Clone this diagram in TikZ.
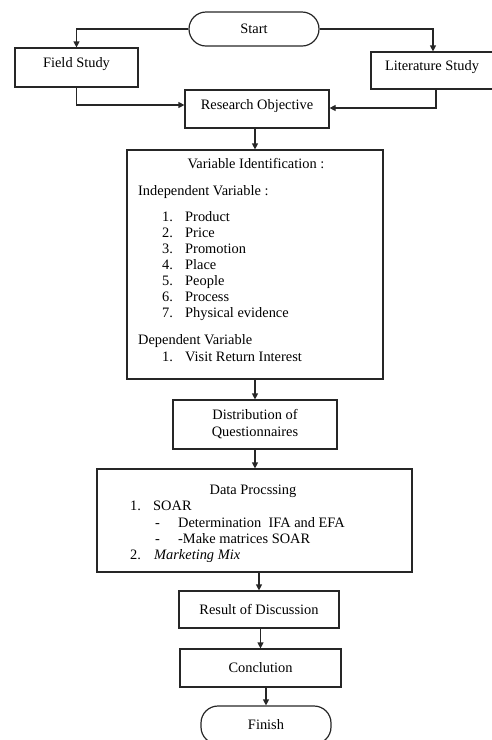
\documentclass[tikz,border=0pt]{standalone}
\usepackage{fontspec}
\setmainfont{Liberation Serif}
\usetikzlibrary{arrows.meta,calc}
\begin{document}
\begin{tikzpicture}[x=1pt,y=-1pt,
  every node/.style={font=\fontsize{14.4}{17}\selectfont, text=black},
  box/.style={draw=black!85, line width=1.2pt, rectangle, inner sep=0pt},
  term/.style={box, rounded corners=17pt},
  txt/.style={inner sep=0pt, anchor=mid west, yshift=-3pt},
  arr/.style={draw=black!85, line width=1.2pt, -{Triangle[length=6pt,width=6pt]}}]
\useasboundingbox (0,0) rectangle (491,740);

% main shapes
\node[term, minimum width=130pt, minimum height=34pt] (start) at (254,29) {Start};
\node[box, minimum width=123pt, minimum height=39pt, text depth=10pt] (field) at (76.5,67.5) {Field Study};
\node[box, minimum width=130pt, minimum height=37pt, text depth=10pt] (lit) at (436,70.5) {Literature Study\hspace*{8pt}};
\node[box, minimum width=144pt, minimum height=38pt, text depth=10pt] (ro) at (257,109) {Research Objective};
\node[box, minimum width=256pt, minimum height=229pt] (var) at (255,264.5) {};
\node[box, minimum width=164pt, minimum height=49pt, align=center] (dist) at (255,424.5) {Distribution of\\Questionnaires};
\node[box, minimum width=315pt, minimum height=103pt] (data) at (254.5,520.5) {};
\node[box, minimum width=160pt, minimum height=37pt] (result) at (259,609.5) {Result of Discussion};
\node[box, minimum width=161pt, minimum height=38pt] (concl) at (260.5,668) {Conclution};
\node[term, minimum width=130pt, minimum height=38pt] (finish) at (266,725) {Finish};

% variable identification text
\node[txt, anchor=mid] (vtitle) at (256,163) {Variable Identification :};
\node[txt] (indep) at (138,190) {Independent Variable :};
\node[txt] (n1) at (162,216.5) {1.}; \node[txt] (i1) at (185,216.5) {Product};
\node[txt] (n2) at (162,232.5) {2.}; \node[txt] (i2) at (185,232.5) {Price};
\node[txt] (n3) at (162,248.5) {3.}; \node[txt] (i3) at (185,248.5) {Promotion};
\node[txt] (n4) at (162,264.5) {4.}; \node[txt] (i4) at (185,264.5) {Place};
\node[txt] (n5) at (162,280.5) {5.}; \node[txt] (i5) at (185,280.5) {People};
\node[txt] (n6) at (162,296.5) {6.}; \node[txt] (i6) at (185,296.5) {Process};
\node[txt] (n7) at (162,312.5) {7.}; \node[txt] (i7) at (185,312.5) {Physical evidence};
\node[txt] (dep) at (138,339) {Dependent Variable};
\node[txt] (n8) at (162,356) {1.}; \node[txt] (i8) at (185,356) {Visit Return Interest};

% data processing text
\node[txt, anchor=mid] (dtitle) at (253,489) {Data Procssing};
\node[txt] (d1) at (130,505) {1.}; \node[txt] (soar) at (153,505) {SOAR};
\node[txt] (dash1) at (155,522) {-}; \node[txt] (det) at (178,522) {Determination\ \ IFA and EFA};
\node[txt] (dash2) at (155,538) {-}; \node[txt] (make) at (178,538) {-Make matrices SOAR};
\node[txt] (d2) at (130,554) {2.}; \node[txt] (mm) at (154,554) {\itshape Marketing Mix};

% connectors
\draw[arr] (start.west) -| (field.north);
\draw[arr] (start.east) -| ([xshift=-3pt]lit.north);
\draw[arr] (field.south) |- ([yshift=4pt]ro.west);
\draw[arr] (lit.south) |- ([yshift=1pt]ro.east);
\draw[arr] (ro.south -| var.north) -- (var.north);
\draw[arr] (var.south) -- (dist.north);
\draw[arr] (dist.south) -- (dist.south |- data.north);
\draw[arr] (data.south -| result.north) -- (result.north);
\draw[arr] (result.south -| concl.north) -- (concl.north);
\draw[arr] (concl.south -| finish.north) -- (finish.north);
\end{tikzpicture}
\end{document}
